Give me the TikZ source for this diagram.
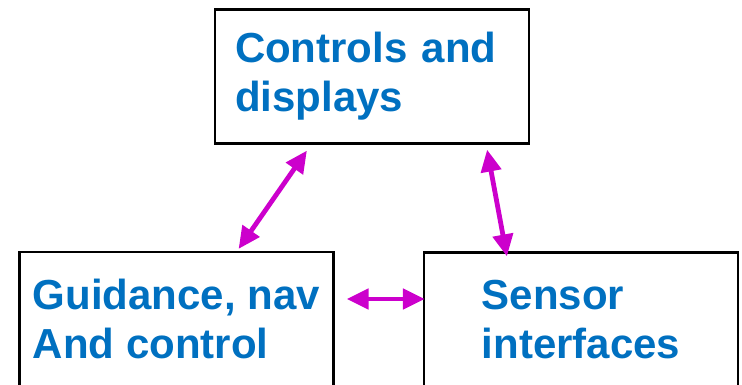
\documentclass[tikz,border=0pt]{standalone}
\usepackage{fontspec}
\setmainfont{Liberation Sans}
\usepackage{xcolor}
\usepackage{tikz}
\usetikzlibrary{arrows.meta}
\definecolor{boxtext}{RGB}{0,112,192}
\definecolor{linkcol}{RGB}{204,0,204}
\tikzset{
block/.style={
  draw,
  rectangle,
  line width=2.2pt,
  align=left,
  minimum width=314pt,
  minimum height=134pt,
  text=boxtext,
  font=\fontsize{42}{49}\selectfont\bfseries
  },
line/.style={<->,>={Triangle[length=22pt,width=20pt]},line width=4.8pt,draw=linkcol}
}

\begin{document}
\begin{tikzpicture}[x=1pt,y=-1pt]
\useasboundingbox (0,0) rectangle (742,385);
\node[block, text width=274pt](ctrl) at (372,76.5) {Controls and\\displays};
\node[block](gnc) at (176.5,319) {Guidance, nav\\And control};
\node[block](sens) at (581,319.5) {Sensor\\interfaces};
\draw[line] ([xshift=93pt,yshift=-6pt]ctrl.south west) -- ([xshift=-96pt,yshift=2pt]gnc.north east);
\draw[line] ([xshift=-43pt,yshift=-5pt]ctrl.south east) -- ([xshift=84pt,yshift=-5pt]sens.north west);
\draw[line] ([xshift=12pt,yshift=20pt]gnc.east) -- ([xshift=2pt,yshift=20.5pt]sens.west);
\end{tikzpicture}
\end{document}
